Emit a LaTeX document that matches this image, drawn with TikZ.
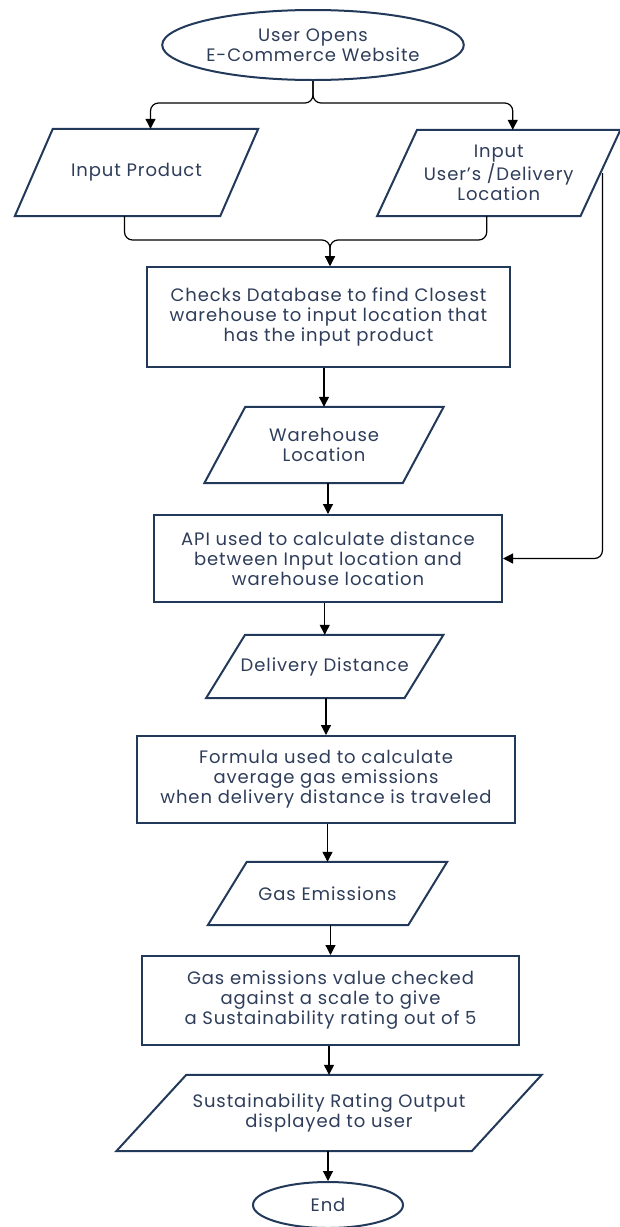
\documentclass[tikz,border=0pt]{standalone}
\usepackage{fontspec}
\setmainfont{Poppins}[LetterSpace=5]
\usetikzlibrary{arrows.meta,shapes.geometric}
\definecolor{bordc}{HTML}{22395A}
\definecolor{txtc}{HTML}{2E3D5A}
\newcommand\drawio[2]{%
  \draw[iobord] ([xshift=#2/2]#1.north west) -- ([xshift=#2/2]#1.north east)
    -- ([xshift=-#2/2]#1.south east) -- ([xshift=-#2/2]#1.south west) -- cycle;}
\begin{document}
\begin{tikzpicture}[x=1pt,y=-1pt,
  base/.style={text=txtc,align=center,inner sep=0pt,
    font=\fontsize{18}{20}\selectfont},
  procbox/.style={base,draw=bordc,line width=2pt,rectangle},
  iotext/.style={base,rectangle},
  iobord/.style={draw=bordc,line width=2pt,line join=miter},
  term/.style={base,draw=bordc,line width=2pt,ellipse},
  conn/.style={draw=black,line width=1.2pt,-{Triangle[width=10pt,length=10pt]}}]
\useasboundingbox (0,0) rectangle (620,1227);
\fill[white] (0,0) rectangle (620,1227);

\node[term,minimum width=301,minimum height=70] (start) at (313,45) {User Opens\\E-Commerce Website};

\node[iotext,minimum width=205,minimum height=87] (ip) at (136.5,172.5) {Input Product};
\drawio{ip}{38}
\node[iotext,minimum width=203,minimum height=86] (ul) at (498.75,173) {Input\\User{\char39}s /Delivery\\Location};
\drawio{ul}{40}

\node[procbox,minimum width=363,minimum height=100] (b1) at (328.5,317) {Checks Database to find Closest\\warehouse to input location that\\has the input product};

\node[iotext,minimum width=198,minimum height=76] (wl) at (324,445) {Warehouse\\Location};
\drawio{wl}{41}

\node[procbox,minimum width=348,minimum height=87] (b2) at (328,558.5) {API used to calculate distance\\between Input location and\\warehouse location};

\node[iotext,minimum width=198,minimum height=63] (dd) at (324.75,666.5) {Delivery Distance};
\drawio{dd}{39}

\node[procbox,minimum width=378,minimum height=87] (b3) at (326,779.5) {Formula used to calculate\\average gas emissions\\when delivery distance is traveled};

\node[iotext,minimum width=200,minimum height=63] (ge) at (327.5,893.5) {Gas Emissions};
\drawio{ge}{39}

\node[procbox,minimum width=377,minimum height=89] (b4) at (330.5,1000.5) {Gas emissions value checked\\against a scale to give\\a Sustainability rating out of 5};

\node[iotext,minimum width=355,minimum height=76] (so) at (329,1113) {Sustainability Rating Output\\displayed to user};
\drawio{so}{70}

\node[term,minimum width=150,minimum height=46] (end) at (328,1205) {End};

% fork from start
\coordinate (fk) at (313,103);
\coordinate (ipin) at ([xshift=14]ip.north);
\coordinate (ulin) at ([xshift=14]ul.north);
\draw[conn,rounded corners=8] (start.south) -- (fk) -| (ipin);
\draw[conn,rounded corners=8] (start.south) -- (fk) -| (ulin);

% merge into b1
\coordinate (mg) at (330,240);
\coordinate (ipout) at ([xshift=-12]ip.south);
\coordinate (ulout) at ([xshift=-12]ul.south);
\coordinate (b1in) at (b1.north -| mg);
\draw[conn,rounded corners=8] (ipout) |- (mg) -- (b1in);
\draw[conn,rounded corners=8] (ulout) |- (mg) -- (b1in);

% side line from user location to b2
\draw[conn,rounded corners=8] ([xshift=2]ul.east) |- (b2.east);

% vertical chain
\draw[conn] (b1.south -| wl.north) -- (wl.north);
\draw[conn] (wl.south -| b2.north) -- (b2.north);
\draw[conn] (b2.south -| dd.north) -- (dd.north);
\draw[conn] (dd.south -| b3.north) -- (b3.north);
\draw[conn] (b3.south -| ge.north) -- (ge.north);
\draw[conn] (ge.south -| b4.north) -- (b4.north);
\draw[conn] (b4.south -| so.north) -- (so.north);
\draw[conn] (so.south -| end.north) -- (end.north);
\end{tikzpicture}
\end{document}
